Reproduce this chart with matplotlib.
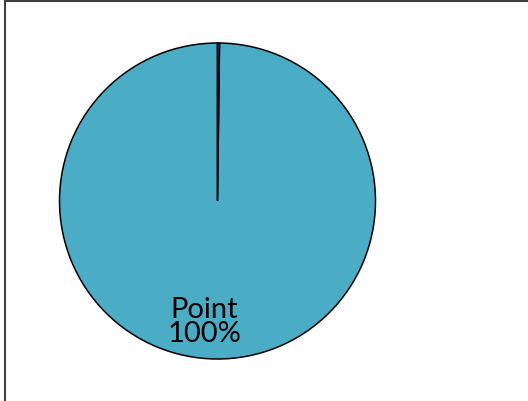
import matplotlib
matplotlib.use('Agg')
import matplotlib.pyplot as plt
from matplotlib.lines import Line2D

# slice data: one dominant category and a sliver
categories = ['Point', 'Other']
values = [998, 2]
colors = ['#4BACC6', '#8064A2']

W, H = 528, 402
fig = plt.figure(figsize=(W / 100, H / 100), dpi=100)

# pie box: centre (217.5, 202) px, radius 158 px
cx, cy, r = 217.5, 202, 158
ax = fig.add_axes([(cx - r) / W, (H - cy - r) / H, 2 * r / W, 2 * r / H])


def pct_label(pct):
    # label only the large slice
    if pct < 1:
        return ''
    return 'Point\n{:.0f}%'.format(pct)


wedges, texts, autotexts = ax.pie(values, colors=colors, startangle=90,
                                  counterclock=True, autopct=pct_label,
                                  pctdistance=0.76,
                                  wedgeprops=dict(edgecolor='black', linewidth=1.1),
                                  textprops=dict(fontsize=21, family='Lato',
                                                 color='black', linespacing=0.92))
ax.set_xlim(-1, 1)
ax.set_ylim(-1, 1)
ax.set_aspect('equal')
ax.axis('off')

# nudge the label slightly left of centre
for t in autotexts:
    x, y = t.get_position()
    t.set_position((x - 0.08, y))

# chart frame: top and left edges
frame_color = '#404040'
fig.add_artist(Line2D([4.5 / W, 1], [1 - 1.5 / H, 1 - 1.5 / H],
                      transform=fig.transFigure, color=frame_color, linewidth=1.5))
fig.add_artist(Line2D([4.5 / W, 4.5 / W], [0, 1 - 1.5 / H],
                      transform=fig.transFigure, color=frame_color, linewidth=1.5))

fig.savefig('out.png', dpi=100)
